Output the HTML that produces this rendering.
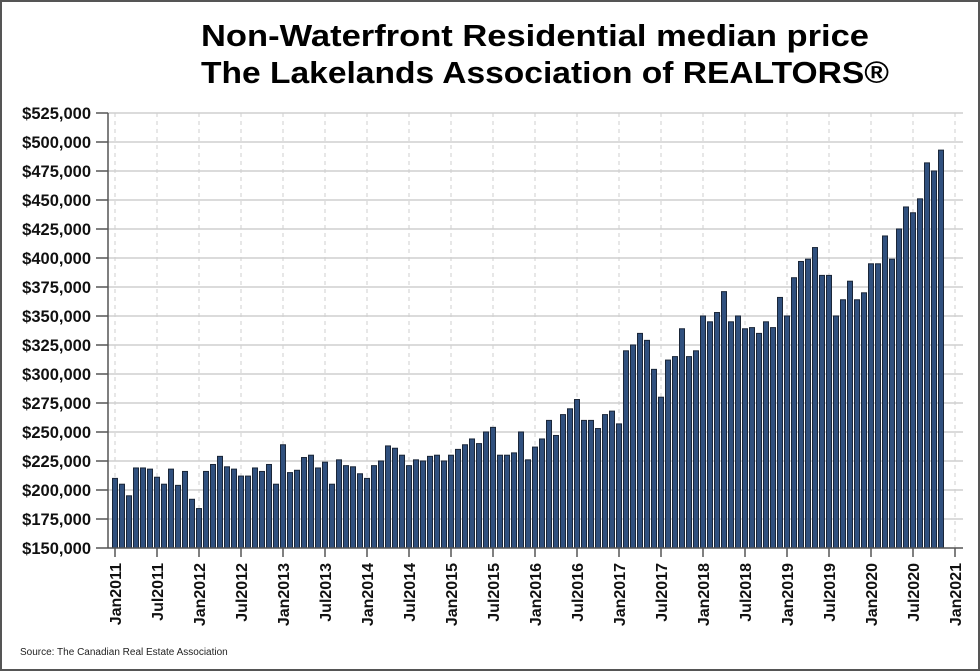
<!DOCTYPE html>
<html><head><meta charset="utf-8"><style>
html,body{margin:0;padding:0;background:#fff;}
svg{display:block;}
text{font-family:"Liberation Sans",Arial,sans-serif;}
</style></head><body>
<svg id="c" width="980" height="671" viewBox="0 0 980 671" xmlns="http://www.w3.org/2000/svg">
<rect x="1" y="1" width="978" height="669" fill="#fff" stroke="#555" stroke-width="2"/>
<text x="535" y="46" font-size="31" font-weight="bold" text-anchor="middle" textLength="668" lengthAdjust="spacingAndGlyphs">Non-Waterfront Residential median price</text>
<text x="545" y="83" font-size="31" font-weight="bold" text-anchor="middle" textLength="688" lengthAdjust="spacingAndGlyphs">The Lakelands Association of REALTORS®</text>
<g id="grid"></g>
<g font-size="16.5" font-weight="bold" text-anchor="end" fill="#111">
<text x="91" y="119">$525,000</text>
<text x="91" y="148">$500,000</text>
<text x="91" y="177">$475,000</text>
<text x="91" y="206">$450,000</text>
<text x="91" y="235">$425,000</text>
<text x="91" y="264">$400,000</text>
<text x="91" y="293">$375,000</text>
<text x="91" y="322">$350,000</text>
<text x="91" y="351">$325,000</text>
<text x="91" y="380">$300,000</text>
<text x="91" y="409">$275,000</text>
<text x="91" y="438">$250,000</text>
<text x="91" y="467">$225,000</text>
<text x="91" y="496">$200,000</text>
<text x="91" y="525">$175,000</text>
<text x="91" y="554">$150,000</text>
</g>
<g id="bars"></g>
<line x1="108" y1="113" x2="108" y2="548" stroke="#555" stroke-width="1.5"/>
<line x1="108" y1="548" x2="963" y2="548" stroke="#555" stroke-width="1.5"/>
<g font-size="16" font-weight="bold" text-anchor="end" fill="#111">
<text transform="translate(121,563) rotate(-90)">Jan2011</text>
<text transform="translate(163,563) rotate(-90)">Jul2011</text>
<text transform="translate(205,563) rotate(-90)">Jan2012</text>
<text transform="translate(247,563) rotate(-90)">Jul2012</text>
<text transform="translate(289,563) rotate(-90)">Jan2013</text>
<text transform="translate(331,563) rotate(-90)">Jul2013</text>
<text transform="translate(373,563) rotate(-90)">Jan2014</text>
<text transform="translate(415,563) rotate(-90)">Jul2014</text>
<text transform="translate(457,563) rotate(-90)">Jan2015</text>
<text transform="translate(499,563) rotate(-90)">Jul2015</text>
<text transform="translate(541,563) rotate(-90)">Jan2016</text>
<text transform="translate(583,563) rotate(-90)">Jul2016</text>
<text transform="translate(625,563) rotate(-90)">Jan2017</text>
<text transform="translate(667,563) rotate(-90)">Jul2017</text>
<text transform="translate(709,563) rotate(-90)">Jan2018</text>
<text transform="translate(751,563) rotate(-90)">Jul2018</text>
<text transform="translate(793,563) rotate(-90)">Jan2019</text>
<text transform="translate(835,563) rotate(-90)">Jul2019</text>
<text transform="translate(877,563) rotate(-90)">Jan2020</text>
<text transform="translate(919,563) rotate(-90)">Jul2020</text>
<text transform="translate(961,563) rotate(-90)">Jan2021</text>
</g>
<text x="20" y="655" font-size="10" fill="#222">Source: The Canadian Real Estate Association</text>
</svg>
<script>
var ns="http://www.w3.org/2000/svg";
var g=document.getElementById("grid"),b=document.getElementById("bars");
function el(p,t,a){var e=document.createElementNS(ns,t);for(var k in a)e.setAttribute(k,a[k]);p.appendChild(e);return e;}
for(var i=0;i<16;i++){var y=548-i*29;
 if(i>0)el(g,"line",{x1:108,y1:y,x2:963,y2:y,stroke:"#cfcfcf","stroke-width":1.5});
 el(g,"line",{x1:96,y1:y,x2:108,y2:y,stroke:"#555","stroke-width":1.5});}
for(var k=0;k<21;k++){var x=115+42*k;
 el(g,"line",{x1:x,y1:113,x2:x,y2:548,stroke:"#cfcfcf","stroke-width":1,"stroke-dasharray":"4,4"});
 el(g,"line",{x1:x,y1:548,x2:x,y2:557,stroke:"#555","stroke-width":1.5});}
var v=[210,205,195,219,219,218,211,205,218,204,216,192,184,216,222,229,220,218,212,212,219,216,222,205,239,215,217,228,230,219,
224,205,226,221,220,214,210,221,225,238,236,230,221,226,225,229,230,225,230,235,239,244,240,250,254,230,230,232,250,226,237,244,260,247,265,270,278,260,260,253,265,268,257,320,325,335,329,
304,280,312,315,339,315,320,350,345,353,371,345,350,339,340,335,345,340,366,350,383,397,399,409,385,385,350,364,380,364,370,395,395,419,399,425,444,439,451,482,475,493];
for(var i=0;i<v.length;i++){var h=(v[i]-150)*1.16;
 el(b,"rect",{x:115+7*i-2.5,y:548-h,width:5,height:h,fill:"#30507e",stroke:"#1a2638","stroke-width":1});}
</script>
</body></html>
